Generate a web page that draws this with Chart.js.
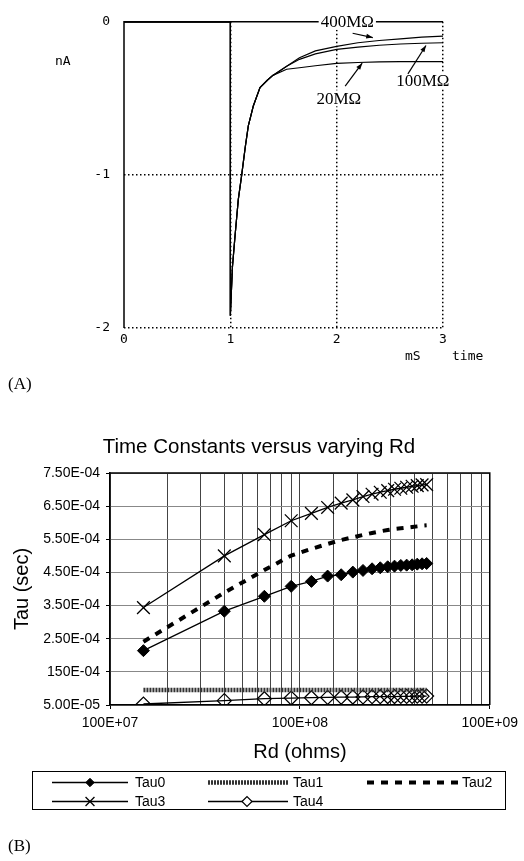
<!DOCTYPE html>
<html>
<head>
<meta charset="utf-8">
<script src="https://cdn.jsdelivr.net/npm/chart.js@4.4.1/dist/chart.umd.min.js"></script>
<style>
  body { margin: 0; background: #fff; width: 524px; height: 861px; position: relative; overflow: hidden; }
  canvas { position: absolute; left: 0; }
  #chartA { top: 0; }
  #chartB { top: 430px; }
  .panel { position: absolute; left: 8px; font: 17px "Liberation Serif", serif; color: #000; }
</style>
</head>
<body>
<canvas id="chartA" width="524" height="390"></canvas>
<canvas id="chartB" width="524" height="431"></canvas>
<div class="panel" style="top:374px">(A)</div>
<div class="panel" style="top:836px">(B)</div>
<script>
// ---- panel A: current traces ----
const timeA = [0, 1, 1, 1.02, 1.044, 1.075, 1.107, 1.14, 1.169, 1.216, 1.279, 1.35, 1.4, 1.53, 1.65, 1.8, 2.0, 2.2, 2.4, 2.6, 2.8, 3.0];
const i20M  = [0, 0, -1.92, -1.6, -1.4, -1.16, -1.0, -0.82, -0.68, -0.55, -0.43, -0.38, -0.35, -0.31, -0.30, -0.287, -0.272, -0.266, -0.262, -0.26, -0.26, -0.26];
const i100M = [0, 0, -1.92, -1.6, -1.4, -1.16, -1.0, -0.82, -0.68, -0.55, -0.43, -0.38, -0.35, -0.29, -0.245, -0.21, -0.18, -0.165, -0.153, -0.145, -0.14, -0.137];
const i400M = [0, 0, -1.92, -1.6, -1.4, -1.16, -1.0, -0.82, -0.68, -0.55, -0.43, -0.38, -0.35, -0.29, -0.235, -0.19, -0.16, -0.137, -0.122, -0.111, -0.10, -0.094];
const traceNames = ["20MΩ", "100MΩ", "400MΩ"];

// ---- panel B: time constants ----
const rdOhms = [1.5e7, 4e7, 6.5e7, 9e7, 1.15e8, 1.4e8, 1.65e8, 1.9e8, 2.15e8, 2.4e8, 2.65e8, 2.9e8, 3.15e8, 3.4e8, 3.65e8, 3.9e8, 4.15e8, 4.4e8, 4.65e8];
const tau0 = [2.14e-4, 3.33e-4, 3.78e-4, 4.08e-4, 4.23e-4, 4.39e-4, 4.43e-4, 4.51e-4, 4.56e-4, 4.61e-4, 4.64e-4, 4.67e-4, 4.69e-4, 4.71e-4, 4.72e-4, 4.73e-4, 4.75e-4, 4.76e-4, 4.77e-4];
const tau1 = [9.5e-5, 9.5e-5, 9.5e-5, 9.5e-5, 9.5e-5, 9.5e-5, 9.5e-5, 9.5e-5, 9.5e-5, 9.5e-5, 9.5e-5, 9.5e-5, 9.5e-5, 9.5e-5, 9.5e-5, 9.5e-5, 9.5e-5, 9.5e-5, 9.5e-5];
const tau2 = [2.41e-4, 3.89e-4, 4.57e-4, 5.01e-4, 5.21e-4, 5.36e-4, 5.48e-4, 5.56e-4, 5.63e-4, 5.69e-4, 5.74e-4, 5.78e-4, 5.81e-4, 5.83e-4, 5.85e-4, 5.87e-4, 5.89e-4, 5.91e-4, 5.92e-4];
const tau3 = [3.44e-4, 5.00e-4, 5.64e-4, 6.06e-4, 6.28e-4, 6.46e-4, 6.59e-4, 6.69e-4, 6.79e-4, 6.86e-4, 6.92e-4, 6.97e-4, 7.01e-4, 7.04e-4, 7.07e-4, 7.10e-4, 7.12e-4, 7.14e-4, 7.15e-4];
const tau4 = [5.3e-5, 6.3e-5, 6.9e-5, 7.1e-5, 7.2e-5, 7.3e-5, 7.35e-5, 7.4e-5, 7.45e-5, 7.5e-5, 7.5e-5, 7.55e-5, 7.55e-5, 7.6e-5, 7.6e-5, 7.6e-5, 7.65e-5, 7.65e-5, 7.7e-5];
const tauNames = ["Tau0", "Tau1", "Tau2", "Tau3", "Tau4"];
const yTickValues = [5e-5, 1.5e-4, 2.5e-4, 3.5e-4, 4.5e-4, 5.5e-4, 6.5e-4, 7.5e-4];
const yTickLabels = ["5.00E-05", "150E-04", "2.50E-04", "3.50E-04", "4.50E-04", "5.50E-04", "6.50E-04", "7.50E-04"];
const xTickValues = [1e7, 1e8, 1e9];
const xTickLabels = ["100E+07", "100E+08", "100E+09"];

const pts = (xs, ys) => xs.map((x, i) => ({ x: x, y: ys[i] }));

const monoFont = { family: "'DejaVu Sans Mono', monospace", size: 13 };
const sansFont = { family: "'Liberation Sans', Arial, sans-serif", size: 14 };

// annotations for panel A, in data units
const traceLabels = [
  { text: traceNames[0], at: [2.02, -0.50], from: [2.08, -0.42], to: [2.24, -0.27] },
  { text: traceNames[1], at: [2.81, -0.386], from: [2.67, -0.34], to: [2.84, -0.155] },
  { text: traceNames[2], at: [2.10, 0], from: [2.15, -0.075], to: [2.34, -0.103] }
];

function arrow(ctx, x1, y1, x2, y2) {
  ctx.beginPath();
  ctx.moveTo(x1, y1);
  ctx.lineTo(x2, y2);
  ctx.stroke();
  const a = Math.atan2(y2 - y1, x2 - x1);
  ctx.beginPath();
  ctx.moveTo(x2, y2);
  ctx.lineTo(x2 - 7 * Math.cos(a - 0.35), y2 - 7 * Math.sin(a - 0.35));
  ctx.lineTo(x2 - 7 * Math.cos(a + 0.35), y2 - 7 * Math.sin(a + 0.35));
  ctx.closePath();
  ctx.fill();
}

const panelAExtras = {
  id: "panelAExtras",
  afterDatasetsDraw(chart) {
    const { ctx, scales: { x, y } } = chart;
    ctx.save();
    ctx.strokeStyle = "#000";
    ctx.fillStyle = "#000";
    ctx.lineWidth = 1.5;
    // solid frame on left and top
    ctx.beginPath();
    ctx.moveTo(x.getPixelForValue(0), y.getPixelForValue(-2));
    ctx.lineTo(x.getPixelForValue(0), y.getPixelForValue(0));
    ctx.lineTo(x.getPixelForValue(3), y.getPixelForValue(0));
    ctx.stroke();

    ctx.lineWidth = 1.2;
    ctx.font = "17px 'Liberation Serif', serif";
    ctx.textAlign = "center";
    ctx.textBaseline = "middle";
    traceLabels.forEach(l => {
      const px = x.getPixelForValue(l.at[0]), py = y.getPixelForValue(l.at[1]);
      const w = ctx.measureText(l.text).width;
      ctx.fillStyle = "#fff";
      ctx.fillRect(px - w / 2 - 2, py - 8, w + 4, 16);
      ctx.fillStyle = "#000";
      ctx.fillText(l.text, px, py + 1);
      arrow(ctx, x.getPixelForValue(l.from[0]), y.getPixelForValue(l.from[1]),
            x.getPixelForValue(l.to[0]), y.getPixelForValue(l.to[1]));
    });

    ctx.font = "13px 'DejaVu Sans Mono', monospace";
    ctx.textAlign = "left";
    ctx.fillText("nA", 55, 62);
    ctx.fillText("mS", 405, 357);
    ctx.fillText("time", 452, 357);
    ctx.restore();
  }
};

new Chart(document.getElementById("chartA"), {
  type: "line",
  data: {
    datasets: [
      { label: traceNames[0], data: pts(timeA, i20M) },
      { label: traceNames[1], data: pts(timeA, i100M) },
      { label: traceNames[2], data: pts(timeA, i400M) }
    ]
  },
  options: {
    responsive: false,
    animation: false,
    layout: { padding: { top: 17, right: 81, bottom: 0, left: 0 } },
    elements: {
      line: { borderColor: "#000", borderWidth: 1.2, tension: 0 },
      point: { radius: 0 }
    },
    plugins: { legend: { display: false }, tooltip: { enabled: false } },
    scales: {
      x: {
        type: "linear", min: 0, max: 3,
        afterFit: s => { s.height = 62; },
        ticks: { stepSize: 1, color: "#000", font: monoFont, padding: 4, maxRotation: 0 },
        grid: { color: c => c.tick.value === 0 ? "rgba(0,0,0,0)" : "#000", lineWidth: 1.5, drawTicks: false },
        border: { display: false, dash: [1.5, 2.5] }
      },
      y: {
        type: "linear", min: -2, max: 0,
        afterFit: s => { s.width = 124; },
        ticks: { stepSize: 1, color: "#000", font: monoFont, padding: 14 },
        grid: { color: c => c.tick.value === 0 ? "rgba(0,0,0,0)" : "#000", lineWidth: 1.5, drawTicks: false },
        border: { display: false, dash: [1.5, 2.5] }
      }
    }
  },
  plugins: [panelAExtras]
});

// ---- panel B ----
const panelBExtras = {
  id: "panelBExtras",
  afterDraw(chart) {
    const { ctx } = chart;
    const ds = chart.data.datasets;
    ctx.save();
    ctx.fillStyle = "#000";
    ctx.font = "20.5px 'Liberation Sans', Arial, sans-serif";
    ctx.textAlign = "center";
    ctx.textBaseline = "middle";
    ctx.fillText("Time Constants versus varying Rd", 259, 17);

    // legend box
    ctx.strokeStyle = "#000";
    ctx.lineWidth = 1;
    ctx.strokeRect(32.5, 341.5, 473, 38);
    const slots = [
      { i: 0, x1: 52, x2: 128, tx: 135, y: 352.5 },
      { i: 1, x1: 208, x2: 288, tx: 293, y: 352.5 },
      { i: 2, x1: 367, x2: 458, tx: 462, y: 352.5 },
      { i: 3, x1: 52, x2: 128, tx: 135, y: 371.5 },
      { i: 4, x1: 208, x2: 288, tx: 293, y: 371.5 }
    ];
    ctx.font = "14px 'Liberation Sans', Arial, sans-serif";
    ctx.textAlign = "left";
    slots.forEach(s => {
      const d = ds[s.i];
      ctx.save();
      ctx.strokeStyle = d.borderColor;
      ctx.lineWidth = d.borderWidth;
      ctx.setLineDash(d.borderDash || []);
      ctx.beginPath();
      ctx.moveTo(s.x1, s.y);
      ctx.lineTo(s.x2, s.y);
      ctx.stroke();
      ctx.restore();
      if (d.pointRadius > 0) {
        const mx = s.i === 4 ? 247 : 90;
        ctx.save();
        ctx.fillStyle = s.i === 4 ? "#fff" : d.pointBackgroundColor;
        ctx.strokeStyle = d.pointBorderColor;
        ctx.lineWidth = d.pointBorderWidth;
        Chart.helpers.drawPoint(ctx, {
          pointStyle: d.pointStyle, radius: s.i === 4 ? 5 : d.pointRadius * 0.7,
          borderWidth: d.pointBorderWidth, rotation: 0
        }, mx, s.y);
        ctx.restore();
      }
      ctx.fillStyle = "#000";
      ctx.fillText(d.label, s.tx, s.y + 1);
    });
    ctx.restore();
  }
};

new Chart(document.getElementById("chartB"), {
  type: "line",
  data: {
    datasets: [
      { label: tauNames[0], data: pts(rdOhms, tau0), borderColor: "#000", borderWidth: 1.3,
        pointStyle: "rectRot", pointRadius: 6, pointBackgroundColor: "#000", pointBorderColor: "#000", pointBorderWidth: 1 },
      { label: tauNames[1], data: pts(rdOhms, tau1), borderColor: "#333", borderWidth: 4.5, borderDash: [2, 1],
        pointRadius: 0 },
      { label: tauNames[2], data: pts(rdOhms, tau2), borderColor: "#000", borderWidth: 4, borderDash: [7, 7],
        pointRadius: 0 },
      { label: tauNames[3], data: pts(rdOhms, tau3), borderColor: "#000", borderWidth: 1.3,
        pointStyle: "crossRot", pointRadius: 9, pointBackgroundColor: "#000", pointBorderColor: "#000", pointBorderWidth: 1.3 },
      { label: tauNames[4], data: pts(rdOhms, tau4), borderColor: "#000", borderWidth: 1.3,
        pointStyle: "rectRot", pointRadius: 7, pointBackgroundColor: "rgba(0,0,0,0)", pointBorderColor: "#000", pointBorderWidth: 1.2 }
    ]
  },
  options: {
    responsive: false,
    animation: false,
    layout: { padding: { top: 43, right: 30, bottom: 96, left: 0 } },
    elements: { line: { tension: 0 } },
    plugins: { legend: { display: false }, tooltip: { enabled: false } },
    scales: {
      x: {
        type: "logarithmic", min: 1e7, max: 1e9,
        afterFit: s => { s.height = 60; },
        ticks: {
          autoSkip: false, maxRotation: 0, color: "#000", font: sansFont, padding: 6,
          callback: v => {
            const k = xTickValues.findIndex(t => Math.abs(t - v) / t < 1e-6);
            return k >= 0 ? xTickLabels[k] : "";
          }
        },
        grid: { color: "#444", lineWidth: 1, tickLength: 4, tickColor: c => xTickValues.some(t => Math.abs(t - c.tick.value) / t < 1e-6) ? "#000" : "rgba(0,0,0,0)" },
        border: { color: "#000", width: 1.5 },
        title: { display: true, text: "Rd (ohms)", color: "#000", font: { family: "'Liberation Sans', Arial, sans-serif", size: 20 }, padding: { top: 0, bottom: 1 } }
      },
      y: {
        type: "linear", min: 5e-5, max: 7.5e-4,
        afterFit: s => { s.width = 110; },
        ticks: {
          stepSize: 1e-4, color: "#000", font: sansFont, padding: 6,
          callback: v => {
            const k = yTickValues.findIndex(t => Math.abs(t - v) < 1e-9);
            return k >= 0 ? yTickLabels[k] : "";
          }
        },
        grid: { color: "#888", lineWidth: 1, tickLength: 4, tickColor: "#000" },
        border: { color: "#000", width: 1.5 },
        title: { display: true, text: "Tau (sec)", color: "#000", font: { family: "'Liberation Sans', Arial, sans-serif", size: 20 }, padding: { top: 10, bottom: 0 } }
      }
    }
  },
  plugins: [panelBExtras, {
    id: "frameB",
    afterDatasetsDraw(chart) {
      const { ctx, chartArea: a } = chart;
      ctx.save();
      ctx.strokeStyle = "#000";
      ctx.lineWidth = 1.5;
      ctx.beginPath();
      ctx.moveTo(a.left, a.top);
      ctx.lineTo(a.right, a.top);
      ctx.lineTo(a.right, a.bottom);
      ctx.stroke();
      ctx.restore();
    }
  }]
});
</script>
</body>
</html>
